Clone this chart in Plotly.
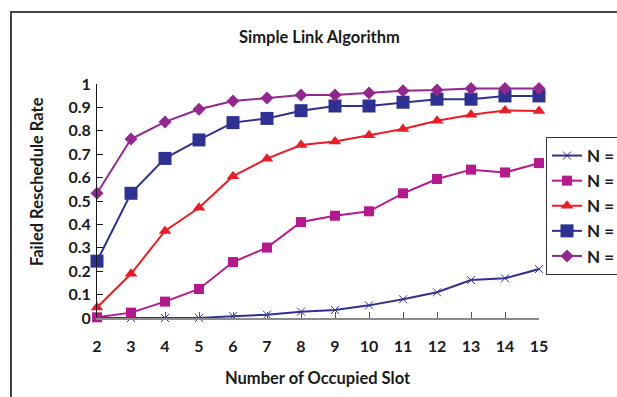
import plotly.graph_objects as go

slots = [2, 3, 4, 5, 6, 7, 8, 9, 10, 11, 12, 13, 14, 15]
n10 = [0.0, 0.0, 0.0, 0.0, 0.008, 0.014, 0.027, 0.034, 0.054, 0.080, 0.110, 0.162, 0.170, 0.209]
n20 = [0.003, 0.023, 0.070, 0.124, 0.239, 0.301, 0.410, 0.437, 0.456, 0.533, 0.594, 0.634, 0.622, 0.662]
n30 = [0.045, 0.189, 0.372, 0.471, 0.606, 0.681, 0.739, 0.754, 0.781, 0.808, 0.843, 0.869, 0.887, 0.885]
n40 = [0.243, 0.533, 0.682, 0.761, 0.835, 0.853, 0.886, 0.906, 0.906, 0.922, 0.935, 0.935, 0.949, 0.949]
n50 = [0.533, 0.765, 0.838, 0.892, 0.927, 0.940, 0.953, 0.953, 0.962, 0.971, 0.974, 0.981, 0.981, 0.981]
names = ["N = 10", "N = 20", "N = 30", "N = 40", "N = 50"]
y_ticks = [0, 0.1, 0.2, 0.3, 0.4, 0.5, 0.6, 0.7, 0.8, 0.9, 1]
y_tick_text = ["0", "0.1", "0.2", "0.3", "0.4", "0.5", "0.6", "0.7", "0.8", "0.9", "1"]

W, H = 617, 397
L, R, T, B = 97, 539, 84, 318  # plot area pixel edges
FONT = "Lato"

styles = [
    dict(color="#2E3192", symbol="x-thin", size=8, lw=1),
    dict(color="#B5198D", symbol="square", size=10, lw=0),
    dict(color="#ED1C24", symbol="triangle-up", size=11, lw=0),
    dict(color="#2E3192", symbol="square", size=13, lw=0),
    dict(color="#93278F", symbol="diamond", size=10, lw=0),
]
series = [n10, n20, n30, n40, n50]

fig = go.Figure()
for name, vals, st in zip(names, series, styles):
    fig.add_trace(go.Scatter(
        x=slots, y=vals, name=name, mode="lines+markers",
        line=dict(color=st["color"], width=2),
        marker=dict(symbol=st["symbol"], size=st["size"], color=st["color"],
                    line=dict(color=st["color"], width=st["lw"] if st["lw"] else 0)),
        cliponaxis=False,
    ))

pw = R - L
ph = B - T
def px_x(p):
    return (p - L) / pw
def px_y(p):
    return (B - p) / ph

fig.update_layout(
    width=W, height=H,
    margin=dict(l=L, r=W - R, t=T, b=H - B, autoexpand=False),
    paper_bgcolor="white", plot_bgcolor="white",
    font=dict(family=FONT, color="#1a1a1a"),
    showlegend=True,
    legend=dict(
        x=px_x(546), y=px_y(137), xanchor="left", yanchor="top",
        bordercolor="#333333", borderwidth=1, bgcolor="white",
        font=dict(family=FONT, size=17, weight="bold", color="#1a1a1a"),
        itemwidth=30, tracegroupgap=0,
    ),
    xaxis=dict(
        range=[2, 15], tickvals=slots, ticktext=[str(s) for s in slots],
        showgrid=False, zeroline=False, showline=True, linecolor="#8c8c8c", linewidth=2,
        ticks="inside", ticklen=6, tickcolor="#555555", tickwidth=1,
        tickfont=dict(family=FONT, size=16, weight="bold", color="#1a1a1a"),
        ticklabelstandoff=13,
    ),
    yaxis=dict(
        range=[0, 1], tickvals=y_ticks, ticktext=y_tick_text,
        showgrid=False, zeroline=False, showline=True, linecolor="#1a1a1a", linewidth=1,
        ticks="inside", ticklen=6, tickcolor="#1a1a1a", tickwidth=1,
        tickfont=dict(family=FONT, size=16, weight="bold", color="#1a1a1a"),
        ticklabelstandoff=2,
    ),
    shapes=[dict(
        type="rect", xref="paper", yref="paper",
        x0=px_x(11), x1=px_x(700), y0=px_y(420), y1=px_y(12),
        line=dict(color="#444444", width=2), fillcolor="rgba(0,0,0,0)", layer="below",
    )],
    annotations=[
        dict(text="Simple Link Algorithm", xref="paper", yref="paper",
             x=px_x(319), y=px_y(37), showarrow=False, xanchor="center", yanchor="middle",
             font=dict(family=FONT, size=16.5, weight="bold", color="#1a1a1a")),
        dict(text="Failed Reschedule Rate", xref="paper", yref="paper",
             x=px_x(37), y=px_y(182), showarrow=False, xanchor="center", yanchor="middle",
             textangle=-90,
             font=dict(family=FONT, size=16.5, weight="bold", color="#1a1a1a")),
        dict(text="Number of Occupied Slot", xref="paper", yref="paper",
             x=px_x(318), y=px_y(378), showarrow=False, xanchor="center", yanchor="middle",
             font=dict(family=FONT, size=16.5, weight="bold", color="#1a1a1a")),
    ],
)

fig.write_html("out.html")
